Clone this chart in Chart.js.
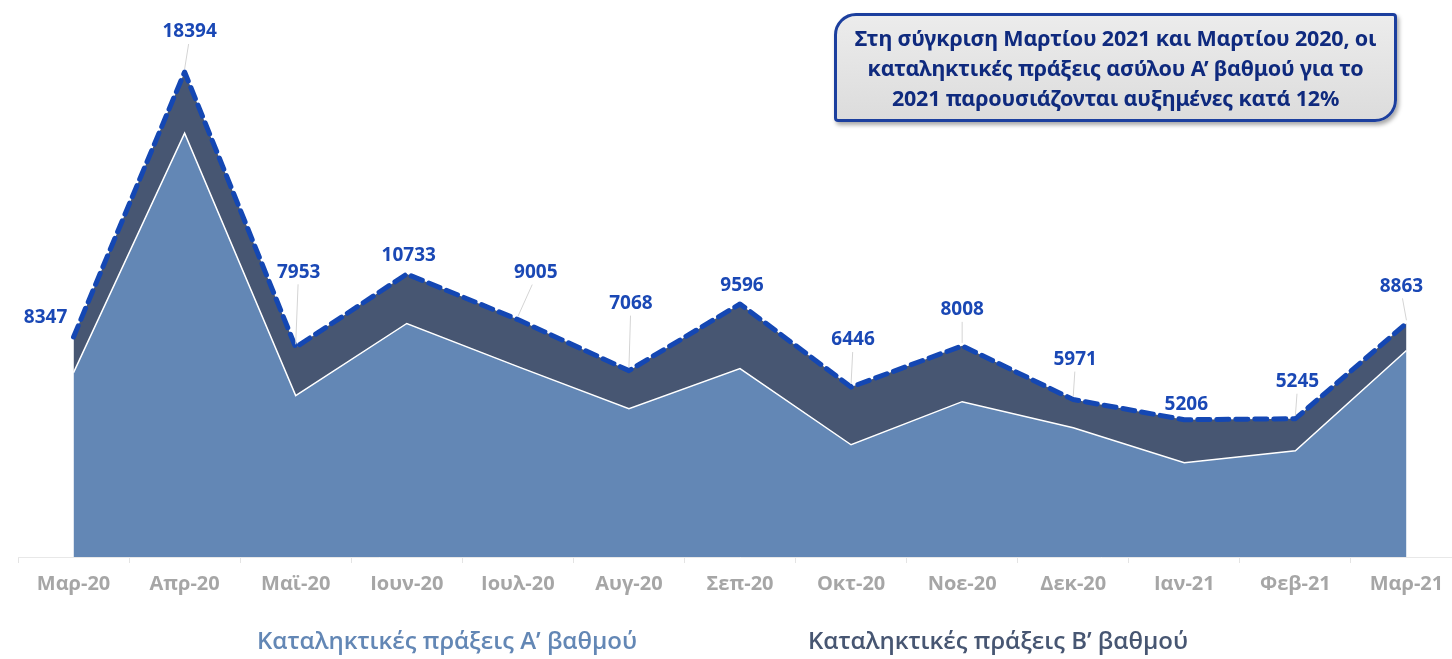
<!DOCTYPE html>
<html>
<head>
<meta charset="utf-8">
<script src="https://cdn.jsdelivr.net/npm/chart.js@4"></script>
<style>
  html, body { margin: 0; padding: 0; background: #fff; overflow: hidden; }
  #wrap { position: relative; width: 1462px; height: 659px; }
  #note {
    position: absolute; left: 834px; top: 13px; width: 557px; height: 103px;
    border: 3px solid #1c3f9e; border-radius: 22px 4px 22px 4px;
    background: linear-gradient(#ececec, #dcdcdc);
    box-shadow: 2px 3px 4px rgba(0,0,0,0.35);
    font-family: "Noto Sans", sans-serif; font-weight: bold; font-size: 21.5px;
    letter-spacing: -0.2px;
    color: #0f2a7e; text-align: center; line-height: 30px;
    display: flex; align-items: center; justify-content: center;
  }
</style>
</head>
<body>
<div id="wrap">
  <canvas id="asylo" width="1462" height="659"></canvas>
  <div id="note">Στη σύγκριση Μαρτίου 2021 και Μαρτίου 2020, οι<br>καταληκτικές πράξεις ασύλου Α’ βαθμού για το<br>2021 παρουσιάζονται αυξημένες κατά 12%</div>
</div>
<script>
const months = ['Μαρ-20', 'Απρ-20', 'Μαϊ-20', 'Ιουν-20', 'Ιουλ-20', 'Αυγ-20', 'Σεπ-20',
  'Οκτ-20', 'Νοε-20', 'Δεκ-20', 'Ιαν-21', 'Φεβ-21', 'Μαρ-21'];

// καταληκτικές πράξεις Α' βαθμού (εκτίμηση από το γράφημα)
const firstDegree = [6993, 16077, 6119, 8856, 7222, 5625, 7146, 4257, 5891, 4903, 3573, 4029, 7830];
// καταληκτικές πράξεις Β' βαθμού
const secondDegree = [1354, 2317, 1834, 1877, 1783, 1443, 2450, 2189, 2117, 1068, 1633, 1216, 1033];
// σύνολα (ετικέτες)
const totals = [8347, 18394, 7953, 10733, 9005, 7068, 9596, 6446, 8008, 5971, 5206, 5245, 8863];

// label placement: lift above the point and horizontal shift
const labelLift = [19, 40, 75, 18, 47, 67, 18, 47, 36, 40, 15, 37, 37];
const labelShift = [-28, 5, 3, 2, 18, 2, 2, 2, 0, 2, 2, 2, -5];

const totalLabels = {
  id: 'totalLabels',
  afterDatasetsDraw(chart) {
    const meta = chart.getDatasetMeta(2);
    const c = chart.ctx;
    c.save();
    meta.data.forEach((pt, i) => {
      const lx = pt.x + labelShift[i];
      const ly = pt.y - labelLift[i];
      if (labelLift[i] > 24) {
        c.strokeStyle = '#d4d4d4';
        c.lineWidth = 1;
        c.beginPath();
        c.moveTo(lx - labelShift[i] * 0.2, ly + 12);
        c.lineTo(pt.x, pt.y - 3);
        c.stroke();
      }
      c.font = 'bold 19px "Noto Sans"';
      c.fillStyle = '#1a48b5';
      c.textAlign = 'center';
      c.textBaseline = 'middle';
      c.fillText(totals[i], lx, ly);
    });
    c.restore();
  }
};

const bottomNames = {
  id: 'bottomNames',
  afterDraw(chart) {
    const c = chart.ctx;
    c.save();
    c.font = '600 24px "Open Sans"';
    c.textAlign = 'center';
    c.textBaseline = 'middle';
    c.fillStyle = '#6387b5';
    c.fillText('Καταληκτικές πράξεις Α’ βαθμού', 447, 642);
    c.fillStyle = '#475672';
    c.fillText('Καταληκτικές πράξεις Β’ βαθμού', 998, 642);
    c.restore();
  }
};

new Chart(document.getElementById('asylo'), {
  type: 'line',
  data: {
    labels: months,
    datasets: [{
      label: 'Καταληκτικές πράξεις Α’ βαθμού',
      data: firstDegree,
      stack: 'areas',
      fill: 'origin',
      backgroundColor: '#6387b5',
      borderColor: '#ffffff',
      borderWidth: 1.5,
      pointRadius: 0,
      tension: 0,
      order: 1
    }, {
      label: 'Καταληκτικές πράξεις Β’ βαθμού',
      data: secondDegree,
      stack: 'areas',
      fill: '-1',
      backgroundColor: '#475672',
      borderColor: '#475672',
      borderWidth: 0,
      pointRadius: 0,
      tension: 0,
      order: 2
    }, {
      label: 'Σύνολο',
      data: totals,
      stack: 'total',
      fill: false,
      borderColor: '#1447b3',
      borderWidth: 5,
      borderDash: [12, 7],
      borderCapStyle: 'round',
      borderJoinStyle: 'round',
      pointRadius: 0,
      tension: 0,
      order: 0
    }]
  },
  options: {
    responsive: false,
    animation: false,
    layout: { padding: { left: 18, right: 0, top: 0, bottom: 0 } },
    plugins: {
      legend: { display: false },
      tooltip: { enabled: false }
    },
    scales: {
      x: {
        offset: true,
        afterFit(scale) { scale.height = 102; },
        grid: {
          offset: true,
          drawOnChartArea: false,
          drawTicks: true,
          tickLength: 6,
          color: '#e4e4e4'
        },
        border: { display: true, color: '#e8e8e8' },
        ticks: {
          color: '#a6a6a6',
          padding: 9,
          maxRotation: 0,
          font: { family: 'Open Sans', size: 20, weight: 'bold' }
        }
      },
      y: {
        display: false,
        stacked: true,
        min: 0,
        max: 21125
      }
    }
  },
  plugins: [totalLabels, bottomNames]
});
</script>
</body>
</html>
